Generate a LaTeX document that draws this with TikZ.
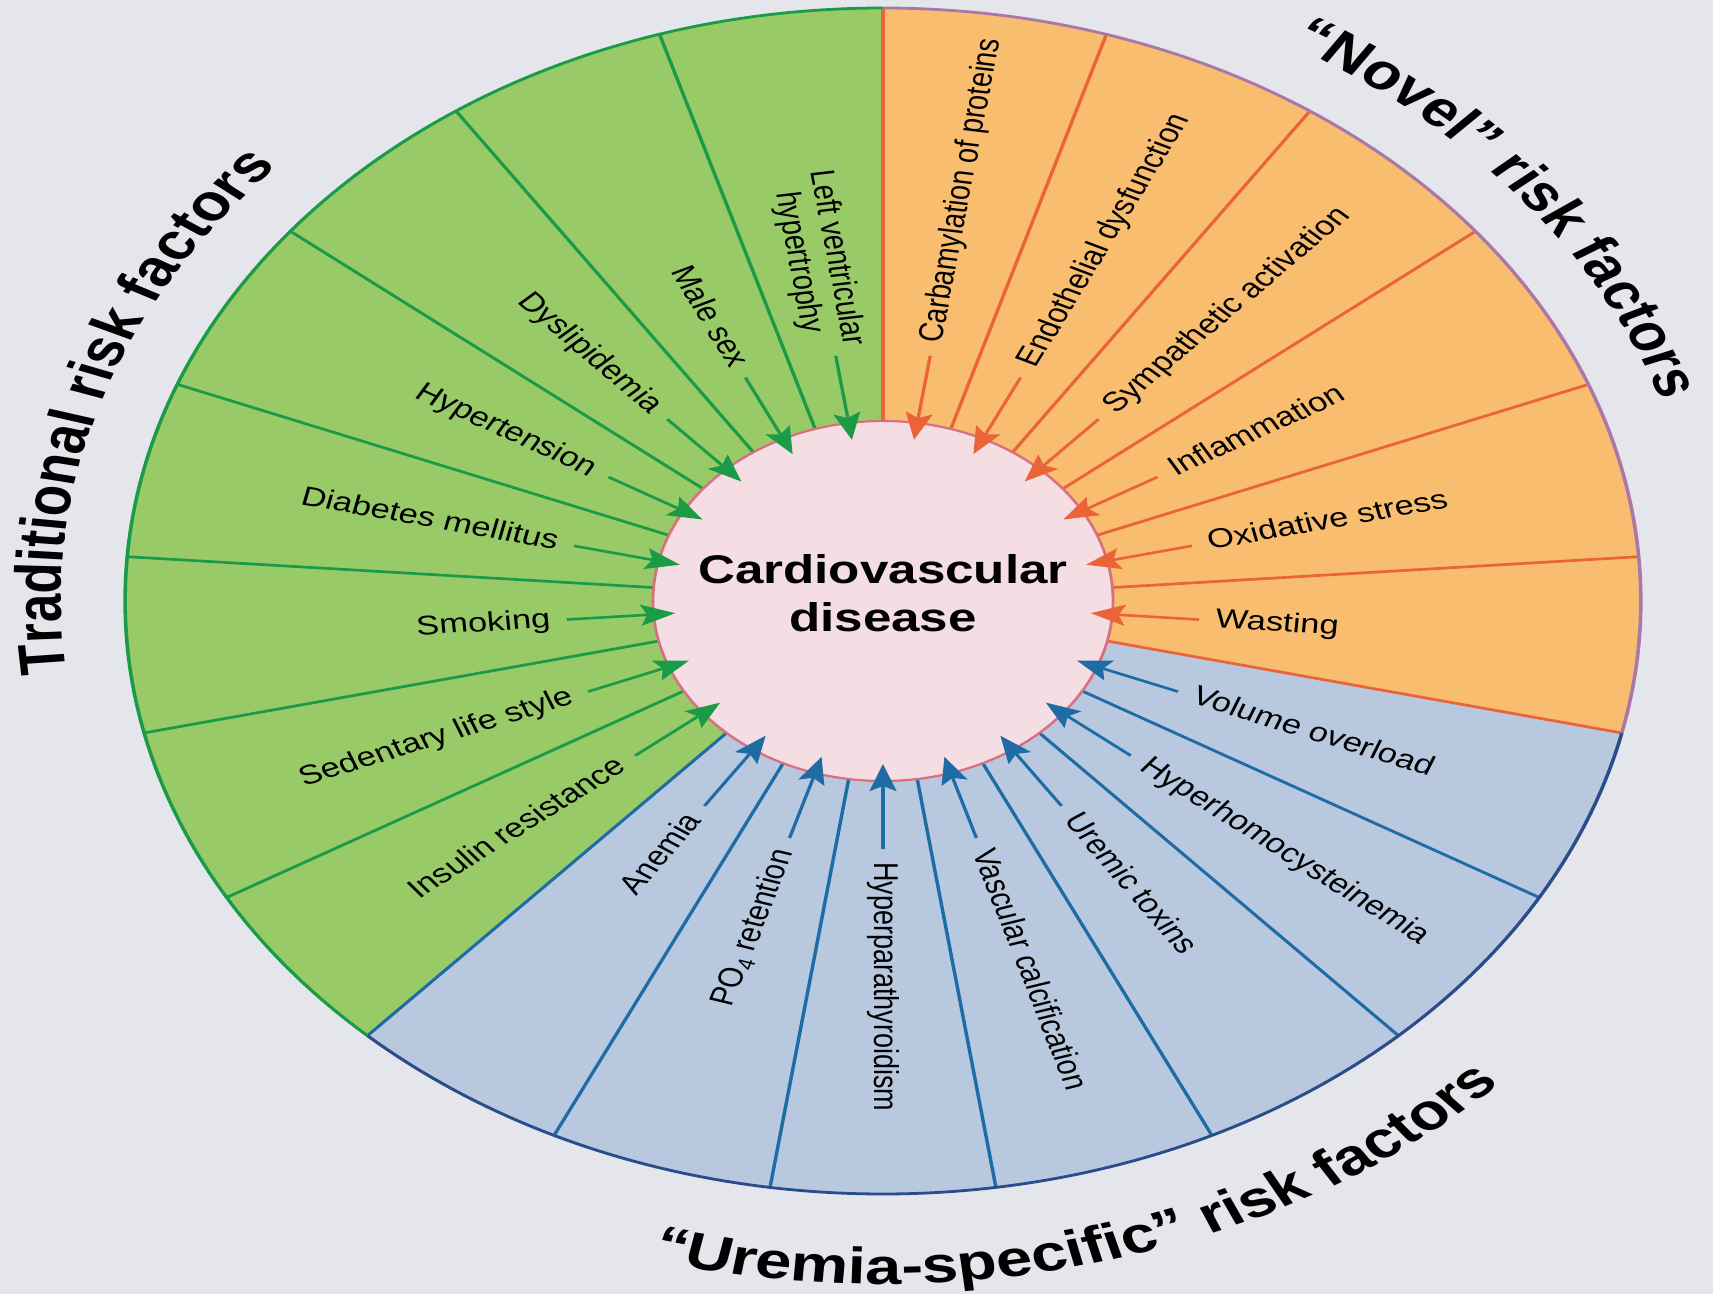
\documentclass[tikz,border=0pt]{standalone}
\usepackage{fontspec}
\setmainfont{Liberation Sans}
\usetikzlibrary{arrows.meta,decorations.text,calc}
\definecolor{bg}{HTML}{E4E6EC}
\definecolor{gfill}{HTML}{98CB68}
\definecolor{gline}{HTML}{1B9A47}
\definecolor{ofill}{HTML}{F9BD6F}
\definecolor{oline}{HTML}{EA6339}
\definecolor{oarc}{HTML}{A977A8}
\definecolor{bfill}{HTML}{B8C9DF}
\definecolor{bline}{HTML}{1E6BA5}
\definecolor{barc}{HTML}{2B4C8A}
\definecolor{pfill}{HTML}{F4DEE4}
\definecolor{pline}{HTML}{D9707F}
\begin{document}
\begin{tikzpicture}[x=1pt,y=1pt,
  lbl/.style={font=\fontsize{27}{30}\selectfont, inner sep=0pt, outer sep=0pt, text height=19.5pt, text depth=5.5pt},
  lblml/.style={font=\fontsize{27}{30}\selectfont, inner sep=0pt, outer sep=0pt, align=center},
  arr/.style={line width=2.6pt, -{Stealth[length=27pt,width=21pt,inset=5pt]}, shorten <=13pt, shorten >=-17pt},
  divider/.style={line width=2.7pt},
  rim/.style={line width=2.8pt}]
\fill[bg] (0,0) rectangle (1713,-1294);
\useasboundingbox (0,0) rectangle (1713,-1294);
\begin{scope}[transform canvas={xscale=1.278}]
\begin{scope}[shift={(690.9,-601)}]
\coordinate (C) at (0,0);
% sectors
\fill[gfill] (C) -- (90:593) arc[start angle=90,end angle=227.143,radius=593] -- cycle;
\fill[bfill] (C) -- (227.143:593) arc[start angle=227.143,end angle=347.143,radius=593] -- cycle;
\fill[ofill] (C) -- (347.143:593) arc[start angle=347.143,end angle=450,radius=593] -- cycle;
% dividers
\foreach \k in {1,...,7} \draw[divider,gline] ({90+\k*17.142857}:178) -- ({90+\k*17.142857}:593);
\foreach \k in {8,...,14} \draw[divider,bline] ({90+\k*17.142857}:178) -- ({90+\k*17.142857}:593);
\foreach \k in {15,...,21} \draw[divider,oline] ({90+\k*17.142857}:178) -- ({90+\k*17.142857}:593);
% rims
\draw[rim,gline] (90:593) arc[start angle=90,end angle=227.143,radius=593];
\draw[rim,barc] (227.143:593) arc[start angle=227.143,end angle=347.143,radius=593];
\draw[rim,oarc] (347.143:593) arc[start angle=347.143,end angle=450,radius=593];
% centre
\node[circle, minimum size=360pt, inner sep=0pt, outer sep=0pt, fill=pfill, draw=pline, line width=2.2pt] (cvd) at (C) {};
\node[font=\bfseries\fontsize{40}{48}\selectfont, align=center] (cvdtext) at (0,8) {Cardiovascular\\disease};
% labels
\node[lblml, rotate=-81.429, anchor=east] (L0) at (98.571:256) {Left ventricular\\hypertrophy};
\foreach \j/\t in {1/Male sex, 2/Dyslipidemia, 3/Hypertension, 4/Diabetes mellitus, 5/Smoking, 6/Sedentary life style, 7/Insulin resistance, 8/Anemia, 9/{PO\textsubscript{4} retention}} {
  \pgfmathsetmacro\b{98.5714+17.142857*\j}
  \node[lbl, rotate=\b-180, anchor=east] (L\j) at (\b:261) {\t};
}
\foreach \j/\t in {10/Hyperparathyroidism, 11/Vascular calcification, 12/Uremic toxins, 13/Hyperhomocysteinemia, 14/Volume overload, 15/Wasting, 16/Oxidative stress, 17/Inflammation, 18/Sympathetic activation, 19/Endothelial dysfunction, 20/Carbamylation of proteins} {
  \pgfmathsetmacro\b{98.5714+17.142857*\j}
  \node[lbl, rotate=\b, anchor=west] (L\j) at (\b:261) {\t};
}
% arrows
\draw[arr,gline,shorten <=8pt] (L0.east) -- (cvd);
\foreach \j in {1,...,7} \draw[arr,gline] (L\j.east) -- (cvd);
\foreach \j in {8,9} \draw[arr,bline] (L\j.east) -- (cvd);
\foreach \j in {10,...,14} \draw[arr,bline] (L\j.west) -- (cvd);
\foreach \j in {15,...,20} \draw[arr,oline] (L\j.west) -- (cvd);
% titles
\path[decorate, decoration={text along path, text align=center, text={|\bfseries\fontsize{51}{60}\selectfont|Traditional risk factors}}] (202:643) arc[start angle=202, end angle=122, radius=643];
\path[decorate, decoration={text along path, text align=center, text={|\bfseries\fontsize{50}{60}\selectfont|“Novel” risk factors}}] (79.2:641) arc[start angle=79.2, end angle=-0.8, radius=641];
\path[decorate, decoration={text along path, text align=center, text={|\bfseries\fontsize{51}{60}\selectfont|“Uremia-specific” risk factors}}] (244.8:683) arc[start angle=244.8, end angle=324.8, radius=683];
\end{scope}
\end{scope}
\end{tikzpicture}
\end{document}
